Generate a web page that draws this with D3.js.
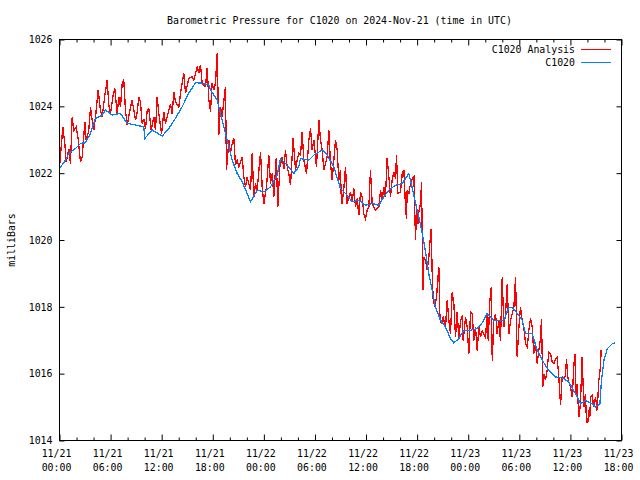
<!DOCTYPE html>
<html><head><meta charset="utf-8">
<script src="https://cdn.jsdelivr.net/npm/d3@7"></script>
<style>
body{margin:0;background:#fff}
text{font-family:"DejaVu Sans Mono","Liberation Mono",monospace;font-size:9.9px;fill:#000}
</style>
</head><body><svg id="c" width="640" height="480"></svg>
<script>
const title = "Barometric Pressure for C1020 on 2024-Nov-21 (time in UTC)";
const yLabel = "milliBars";
const seriesNames = ["C1020 Analysis", "C1020"];
const startTime = Date.UTC(2024, 10, 21, 0, 0);
const spanHours = 66;
const yTicks = [1014, 1016, 1018, 1020, 1022, 1024, 1026];

// C1020 Analysis (red): hours since start, millibars
const analysisHours = [0,0.39,0.63,0.78,1.10,1.29,1.49,1.68,1.96,2.19,2.47,2.66,2.98,3.13,3.44,3.64,3.84,4.03,4.23,4.54,4.81,5.01,5.32,5.60,5.79,5.99,6.26,6.50,6.77,6.97,7.16,7.36,7.55,7.75,7.95,8.34,8.53,8.93,9.12,9.32,9.51,9.71,9.90,10.10,10.30,10.49,10.77,11.08,11.27,11.47,11.67,11.98,12.25,12.45,12.84,13.04,13.23,13.43,13.62,14.01,
14.21,14.60,14.80,15.19,15.58,15.78,16.17,16.36,16.56,16.75,17.15,17.34,17.54,17.73,17.93,18.12,18.32,18.52,18.71,18.91,19.10,19.49,19.61,19.89,20.08,20.28,20.47,20.67,20.86,21.06,21.45,21.65,21.84,22.04,22.43,22.63,22.82,23.02,23.21,23.61,23.80,24.00,24.31,24.58,24.78,24.98,25.17,25.45,25.64,25.88,26.15,26.35,26.54,26.74,26.93,27.13,27.44,27.72,27.91,28.11,28.30,28.50,28.69,29.01,29.28,29.48,29.67,29.87,30.18,30.46,30.65,
30.85,31.04,31.24,31.43,31.63,31.82,32.02,32.41,32.61,32.80,33.00,33.08,33.19,33.39,33.59,33.78,33.98,34.17,34.37,34.56,34.76,34.96,35.15,35.35,35.54,35.74,35.93,36.13,36.33,36.52,36.72,36.91,37.11,37.50,37.70,37.89,38.09,38.28,38.48,38.68,38.87,39.07,39.26,39.46,39.58,39.73,
40.05,40.25,40.44,40.64,40.75,40.83,41.03,41.22,41.42,41.62,41.81,41.93,42.09,42.20,42.40,42.52,42.67,42.79,42.99,43.18,43.38,43.49,43.65,43.77,43.89,44.08,44.28,44.36,44.55,44.67,44.83,45.06,45.33,45.53,45.73,45.92,46.12,46.31,46.51,46.70,46.90,47.10,47.29,47.41,47.68,47.88,48.07,48.27,48.47,48.66,48.86,49.05,49.25,49.45,49.64,50.03,50.23,50.35,50.54,50.70,50.82,51.01,51.21,51.40,51.60,51.79,51.99,52.19,52.38,52.58,52.77,52.97,53.16,53.36,53.56,53.75,53.95,54.14,54.34,54.53,54.73,54.93,55.12,
55.31,55.51,55.70,55.90,56.10,56.29,56.49,56.60,56.76,56.88,57.07,57.27,57.46,57.66,57.86,58.05,58.25,58.44,58.64,58.76,58.84,59.03,59.23,59.42,59.54,59.70,59.81,60.01,60.21,60.40,60.52,60.67,60.79,60.99,61.18,61.38,61.58,61.77,61.89,62.05,62.16,62.28,62.36,62.55,62.75,62.95,63.14,63.34,63.53,63.61];
const analysisValues = [1022.18,1023.38,1022.88,1022.33,1022.73,1022.28,1023.68,1023.28,1023.38,1023.03,1022.33,1022.48,1023.53,1022.98,1023.28,1023.98,1023.58,1023.28,1023.68,1024.48,1023.88,1023.68,1024.33,1024.78,1024.03,1023.78,1024.28,1024.53,1023.78,1024.28,1023.98,1024.68,1024.78,1023.88,1023.43,1023.98,1024.18,1023.58,1023.83,1024.28,1024.13,1023.48,1023.63,1023.33,1023.88,1023.93,1023.28,1023.68,1023.28,1024.28,1023.78,1023.18,1023.83,1023.48,1023.88,1024.08,1023.78,1024.43,1024.13,1023.98,
1024.39,1024.99,1024.39,1024.84,1024.89,1024.79,1025.19,1024.99,1025.24,1024.69,1024.59,1025.14,1024.19,1023.84,1024.69,1024.49,1024.69,1025.59,1023.14,1023.99,1023.69,1024.59,1022.09,1022.99,1022.59,1022.89,1023.04,1022.24,1022.39,1022.19,1022.49,1021.89,1021.59,1021.89,1021.49,1022.59,1021.29,1021.69,1021.49,1022.64,1021.59,1021.09,1021.59,1022.54,1021.69,1021.99,1021.29,1022.44,1020.99,1022.19,1022.49,1022.14,1022.69,1022.19,1021.99,1021.64,1023.04,1022.09,1022.39,1022.59,1022.54,1023.24,1022.39,1021.99,1022.99,1023.34,1022.69,1022.99,1022.19,1023.59,1022.99,
1022.69,1022.09,1022.29,1022.49,1023.29,1022.29,1021.79,1022.99,1022.69,1021.79,1022.09,1021.34,1021.09,1021.54,1022.19,1021.09,1021.29,1021.44,1021.14,1021.54,1020.99,1021.24,1020.74,1021.44,1021.29,1020.79,1020.64,1020.89,1020.99,1022.09,1021.09,1020.99,1020.89,1020.99,1021.49,1021.19,1021.59,1021.29,1022.44,1021.89,1021.29,1021.79,1022.04,1021.84,1022.54,1021.39,
1021.44,1021.99,1022.09,1020.99,1020.64,1021.49,1021.39,1021.69,1021.84,1021.89,1019.99,1020.89,1020.49,1020.84,1021.09,1021.74,1018.49,1019.49,1019.39,1019.09,1019.49,1019.89,1020.34,1018.99,1018.19,1017.99,1018.29,1018.59,1019.19,1017.79,1017.49,1017.69,1017.39,1018.19,1017.59,1017.19,1018.44,1018.09,1017.09,1017.84,1017.04,1017.59,1017.74,1016.99,1017.69,1017.39,1016.59,1017.84,1017.79,1016.99,1017.39,1016.69,1017.39,1017.09,1017.29,1017.09,1017.79,1016.99,1018.19,1018.59,1016.39,1017.59,1017.79,1017.19,1017.59,1016.99,1018.89,1017.39,1017.79,1018.69,1017.19,1017.59,1017.79,1017.99,1018.89,1016.49,1017.39,1017.99,1017.59,1017.39,1016.89,1016.79,1017.29,
1017.65,1017.40,1016.60,1016.90,1016.30,1016.70,1017.05,1017.65,1015.60,1016.00,1015.80,1016.10,1016.65,1016.60,1016.35,1016.30,1016.45,1016.50,1015.90,1015.40,1015.05,1015.90,1015.85,1015.95,1016.45,1015.90,1015.75,1015.60,1015.30,1016.20,1016.60,1015.40,1015.70,1014.70,1015.10,1016.50,1015.00,1015.40,1014.55,1014.55,1014.90,1014.70,1015.30,1015.35,1015.00,1015.30,1014.90,1015.80,1016.20,1016.70];

// C1020 station (blue): hours since start, millibars
const stationHours = [0,0.70,1.09,1.88,2.47,3.05,3.64,4.23,5.01,5.40,6.19,7.16,7.95,8.93,9.90,10.02,10.89,12.06,12.84,13.62,14.41,15.18,15.97,16.76,17.53,17.73,18.52,19.11,19.69,20.28,20.87,21.46,22.04,22.43,23.22,23.99,24.78,25.57,25.95,26.74,27.52,28.10,28.30,29.28,29.87,30.85,31.44,32.21,33.00,33.79,34.37,35.15,35.94,36.72,37.50,38.09,38.67,39.46,40.25,40.63,41.02,41.42,41.81,42.20,42.60,42.98,43.37,43.77,44.16,44.74,45.33,45.92,46.31,46.89,47.48,48.27,49.05,49.64,50.23,51.00,52.18,52.77,53.16,53.75,54.34,54.73,55.51,56.10,56.69,57.46,58.25,59.04,59.81,60.60,61.19,61.77,62.56,62.95,63.46,63.65,63.94,64.34,64.93,65.20];
const stationValues = [1022.14,1022.39,1022.59,1022.74,1022.89,1022.91,1023.19,1023.64,1023.74,1023.89,1023.74,1023.79,1023.49,1023.44,1023.39,1023.04,1023.29,1023.11,1023.34,1023.64,1023.99,1024.39,1024.71,1024.69,1024.64,1024.49,1024.19,1023.59,1022.99,1022.39,1021.99,1021.74,1021.39,1021.14,1021.49,1021.44,1021.59,1021.94,1022.44,1022.24,1021.99,1022.19,1022.44,1022.39,1022.54,1022.69,1022.54,1022.19,1021.54,1021.34,1021.14,1021.19,1021.04,1021.09,1021.04,1021.29,1021.49,1021.64,1021.69,1021.84,1021.99,1021.56,1021.11,1020.69,1020.20,1019.65,1018.99,1018.49,1017.99,1017.60,1017.40,1017.05,1016.92,1017.05,1017.30,1017.30,1017.35,1017.52,1017.80,1017.60,1017.60,1017.99,1017.99,1017.80,1017.60,1017.20,1017.20,1016.70,1016.40,1016.10,1015.90,1015.88,1015.75,1015.40,1015.10,1015.20,1015.10,1015.00,1015.10,1015.80,1016.40,1016.75,1016.90,1016.92];

const colors = ["#ff0000", "#0080ff"];

const svg = d3.select("#c");
const L = 59.5, R = 621.5, T = 39.5, B = 440.5;
const toDate = h => new Date(startTime + h * 3600e3);
const x = d3.scaleUtc().domain([toDate(0), toDate(spanHours)]).range([L, R]);
const y = d3.scaleLinear().domain([1014, 1026]).range([B, T]);

// plot lines
const aData = analysisHours.map((h, i) => [h, analysisValues[i]]);
const sData = stationHours.map((h, i) => [h, stationValues[i]]);
const line = d3.line().x(d => x(toDate(d[0]))).y(d => y(d[1]));
svg.append("path").datum(aData).attr("d", line).attr("fill", "none")
  .attr("stroke", colors[0]).attr("stroke-width", 1.3).attr("shape-rendering", "crispEdges");
svg.append("path").datum(sData).attr("d", line).attr("fill", "none")
  .attr("stroke", colors[1]).attr("stroke-width", 1.3).attr("shape-rendering", "crispEdges");

// axes
const majorX = d3.utcHour.every(6).range(toDate(0), toDate(spanHours + 0.01));
const minorX = d3.utcHour.every(2).range(toDate(0), toDate(spanHours + 0.01)).filter(d => d.getUTCHours() % 6 !== 0);
function styleAxis(g) { g.select(".domain").remove(); g.selectAll("line").attr("stroke", "#000"); g.selectAll("text").remove(); }
svg.append("g").attr("transform", `translate(0,${B})`).call(d3.axisBottom(x).tickValues(majorX).tickSize(-6)).call(styleAxis);
svg.append("g").attr("transform", `translate(0,${B})`).call(d3.axisBottom(x).tickValues(minorX).tickSize(-3)).call(styleAxis);
svg.append("g").attr("transform", `translate(0,${T})`).call(d3.axisTop(x).tickValues(majorX).tickSize(-6)).call(styleAxis);
svg.append("g").attr("transform", `translate(0,${T})`).call(d3.axisTop(x).tickValues(minorX).tickSize(-3)).call(styleAxis);
svg.append("g").attr("transform", `translate(${R},0)`).call(d3.axisRight(y).tickValues(yTicks).tickSize(-5)).call(styleAxis);
const yAxis = svg.append("g").attr("transform", `translate(${L},0)`).call(d3.axisLeft(y).tickValues(yTicks).tickSize(-5).tickPadding(7).tickFormat(d3.format("d")));
yAxis.select(".domain").remove();
yAxis.selectAll("line").attr("stroke", "#000");
yAxis.selectAll("text").attr("font-family", null).attr("font-size", null).attr("fill", "#000");

// frame
svg.append("rect").attr("x", L).attr("y", T).attr("width", R - L).attr("height", B - T).attr("fill", "none").attr("stroke", "#000").attr("stroke-width", 1);

// x tick labels
const fDate = d3.utcFormat("%m/%d"), fTime = d3.utcFormat("%H:%M");
const xl = svg.append("g").selectAll("text").data(majorX).join("text")
  .attr("text-anchor", "middle");
xl.append("tspan").attr("x", d => x(d) - 3).attr("y", B + 16).text(fDate);
xl.append("tspan").attr("x", d => x(d) - 3).attr("y", B + 30).text(fTime);

// title and y label
svg.append("text").attr("x", (L + R) / 2 - 1).attr("y", 24).attr("text-anchor", "middle").text(title);
svg.append("text").attr("transform", `translate(15,240) rotate(-90)`).attr("text-anchor", "middle").text(yLabel);

// legend
seriesNames.forEach((n, i) => {
  const ly = 49.5 + i * 13;
  svg.append("text").attr("x", 575).attr("y", ly + 3.5).attr("text-anchor", "end").text(n);
  svg.append("line").attr("x1", 581).attr("x2", 611).attr("y1", ly).attr("y2", ly).attr("stroke", colors[i]).attr("stroke-width", 1);
});
</script>
</body></html>
